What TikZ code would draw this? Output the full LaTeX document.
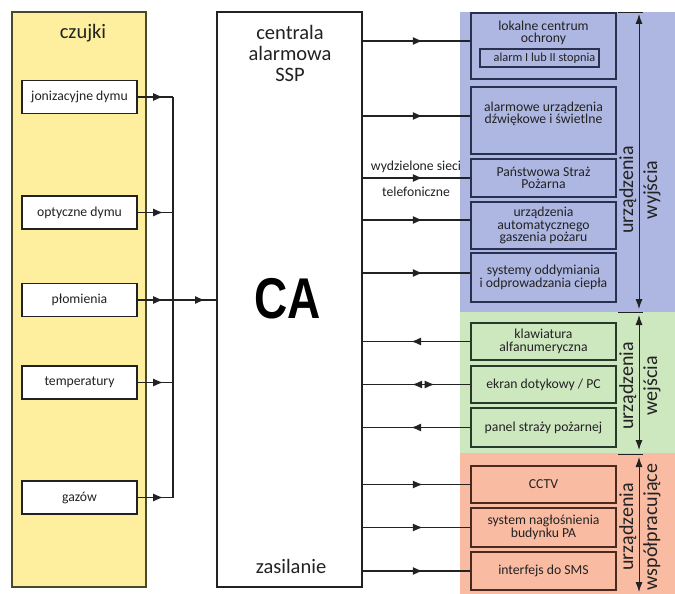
\documentclass[tikz,border=0pt]{standalone}
\usepackage{fontspec}
\setmainfont{Carlito}
\newfontfamily\cafont{Liberation Sans}
\usetikzlibrary{arrows.meta,decorations.markings}
\definecolor{yel}{HTML}{FDEF9E}
\definecolor{yelline}{HTML}{4A4A2A}
\definecolor{blueband}{HTML}{ADB7E2}
\definecolor{blueline}{HTML}{2A3050}
\definecolor{greenband}{HTML}{CDE7BF}
\definecolor{greenline}{HTML}{2A3A2A}
\definecolor{orangeband}{HTML}{F9BCA2}
\definecolor{orangeline}{HTML}{4A2A20}
\definecolor{ink}{HTML}{222222}
\tikzset{
  smalltxt/.style={font=\fontsize{13.7}{12.5}\selectfont, align=center, text=ink},
  sbox/.style={smalltxt, draw=ink, line width=1.8pt, fill=white, minimum width=115pt, minimum height=33pt, inner sep=0pt},
  rbox/.style={smalltxt, line width=1.8pt, minimum width=145pt, inner sep=0pt},
  bbox/.style={rbox, draw=blueline, fill=blueband},
  gbox/.style={rbox, draw=greenline, fill=greenband},
  obox/.style={rbox, draw=orangeline, fill=orangeband},
  conn/.style={draw=ink, line width=1.3pt},
  midarrow/.style={conn, postaction={decorate}, decoration={markings, mark=at position #1 with {\arrow{Latex[length=10pt,width=8pt]}}}},
  dblarrow/.style={conn, postaction={decorate}, decoration={markings,
     mark=at position 0.46 with {\arrowreversed{Latex[length=10pt,width=8pt]}},
     mark=at position 0.67 with {\arrow{Latex[length=10pt,width=8pt]}}}},
  rangearrow/.style={draw=ink, line width=0.9pt, {Latex[length=10pt,width=7pt]}-{Latex[length=10pt,width=7pt]}},
  biglabel/.style={font=\fontsize{20}{24}\selectfont, align=center, text=ink, rotate=90, inner sep=0pt},
  ticks/.style={draw=ink, line width=0.9pt}
}
\begin{document}
\begin{tikzpicture}[x=1pt,y=-1pt]
\useasboundingbox (0,0) rectangle (675,594);
\fill[white] (0,0) rectangle (675,594);
% coloured bands
\fill[blueband] (460,12) rectangle (675,312);
\fill[greenband] (460,312) rectangle (675,453);
\fill[orangeband] (460,453) rectangle (675,594);

% left panel
\node[draw=yelline, fill=yel, line width=1.8pt, minimum width=134pt, minimum height=575pt, inner sep=0pt] (panel) at (79,299.5) {};
\node[font=\fontsize{20.5}{22}\selectfont, text=ink] (czujki) at (83,33) {czujki};
\node[sbox] (jon) at (79.5,97) {jonizacyjne dymu};
\node[sbox] (opt) at (79.5,212.5) {optyczne dymu};
\node[sbox] (plo) at (79.5,300) {płomienia};
\node[sbox] (tem) at (79.5,382.5) {temperatury};
\node[sbox] (gaz) at (79.5,497.5) {gazów};

% central unit
\node[draw=ink, fill=white, line width=1.5pt, minimum width=145pt, minimum height=575pt, inner sep=0pt] (ca) at (289.5,299.5) {};
\node[font=\fontsize{20.5}{21}\selectfont, align=center, text=ink] (ssp) at (290,53) {centrala\\alarmowa\\SSP};
\node[font=\cafont\bfseries\fontsize{46}{46}\selectfont, text=black, yscale=1.25] (catxt) at (288,299) {CA};
\node[font=\fontsize{20.5}{22}\selectfont, text=ink] (zas) at (291,566) {zasilanie};

% bus
\coordinate (bus1) at (173,97);
\coordinate (bus2) at (173,212.5);
\coordinate (bus3) at (173,300);
\coordinate (bus4) at (173,382.5);
\coordinate (bus5) at (173,497.5);
\draw[conn] (bus1) -- (bus5);
\draw[midarrow=0.72] (jon.east) -- (bus1);
\draw[midarrow=0.72] (opt.east) -- (bus2);
\draw[midarrow=0.72] (plo.east) -- (bus3);
\draw[midarrow=0.72] (tem.east) -- (bus4);
\draw[midarrow=0.72] (gaz.east) -- (bus5);
\draw[midarrow=0.74] (bus3) -- (ca.west |- bus3);

% output devices
\node[bbox, minimum height=66pt] (b1) at (543.5,46) {};
\node[smalltxt] (b1t) at (543.5,33) {lokalne centrum\\ochrony};
\node[draw=blueline, fill=blueband, line width=1.8pt, minimum width=119pt, minimum height=18pt, inner sep=0pt, font=\fontsize{12.3}{12}\selectfont, text=ink] (b1s) at (539.5,58) {\hspace*{10pt}alarm I lub II stopnia};
\node[bbox, minimum height=67pt] (b2) at (543.5,120.5) {alarmowe urządzenia\\dźwiękowe i świetlne\\[3pt]};
\node[bbox, minimum height=38pt] (b3) at (543.5,178) {Państwowa Straż\\Pożarna};
\node[bbox, minimum height=47pt] (b4) at (543.5,225.5) {urządzenia\\automatycznego\\gaszenia pożaru};
\node[bbox, minimum height=49pt] (b5) at (543.5,277.5) {systemy oddymiania\\i odprowadzania ciepła};

% input devices
\node[gbox, minimum height=37pt] (g1) at (543.5,341.5) {klawiatura\\alfanumeryczna};
\node[gbox, minimum height=37pt] (g2) at (543.5,384.5) {ekran dotykowy / PC};
\node[gbox, minimum height=39pt] (g3) at (543.5,427.5) {panel straży pożarnej};

% cooperating devices
\node[obox, minimum height=37pt] (o1) at (543.5,484.5) {CCTV};
\node[obox, minimum height=39pt] (o2) at (543.5,527.5) {system nagłośnienia\\budynku PA};
\node[obox, minimum height=38pt] (o3) at (543.5,571) {interfejs do SMS};

% connectors from CA
\coordinate (y1) at (0,41);
\coordinate (y2) at (0,116);
\coordinate (y3) at (0,178);
\coordinate (y4) at (0,220);
\coordinate (y5) at (0,273);
\draw[midarrow=0.56] (ca.east |- y1) -- (b1.west |- y1);
\draw[midarrow=0.56] (ca.east |- y2) -- (b2.west |- y2);
\draw[midarrow=0.56] (ca.east |- y3) -- (b3.west |- y3);
\draw[midarrow=0.56] (ca.east |- y4) -- (b4.west |- y4);
\draw[midarrow=0.56] (ca.east |- y5) -- (b5.west |- y5);
\node[smalltxt] (wyd) at (416,167) {wydzielone sieci};
\node[smalltxt] (tel) at (416,192) {telefoniczne};

\draw[midarrow=0.55] (g1.west) -- (ca.east |- g1.west);
\draw[dblarrow] (ca.east |- g2.west) -- (g2.west);
\draw[midarrow=0.55] (g3.west) -- (ca.east |- g3.west);
\draw[midarrow=0.56] (ca.east |- o1.west) -- (o1.west);
\draw[midarrow=0.56] (ca.east |- o2.west) -- (o2.west);
\draw[midarrow=0.56] (ca.east |- o3.west) -- (o3.west);

% range markers
\draw[ticks] (618,12) -- (643,12);
\draw[ticks] (618,312.5) -- (643,312.5);
\draw[ticks] (618,454) -- (643,454);
\coordinate (r1a) at (639,14);
\coordinate (r1b) at (639,309);
\coordinate (r2a) at (639,315);
\coordinate (r2b) at (639,450);
\coordinate (r3a) at (639,457);
\coordinate (r3b) at (639,592);
\draw[rangearrow] (r1a) -- (r1b);
\draw[rangearrow] (r2a) -- (r2b);
\draw[rangearrow] (r3a) -- (r3b);
\node[biglabel] (lw) at (640,190) {urządzenia\\wyjścia};
\node[biglabel] (lwe) at (640,386) {urządzenia\\wejścia};
\node[biglabel] (lws) at (640,527) {urządzenia\\współpracujące};
\end{tikzpicture}
\end{document}
